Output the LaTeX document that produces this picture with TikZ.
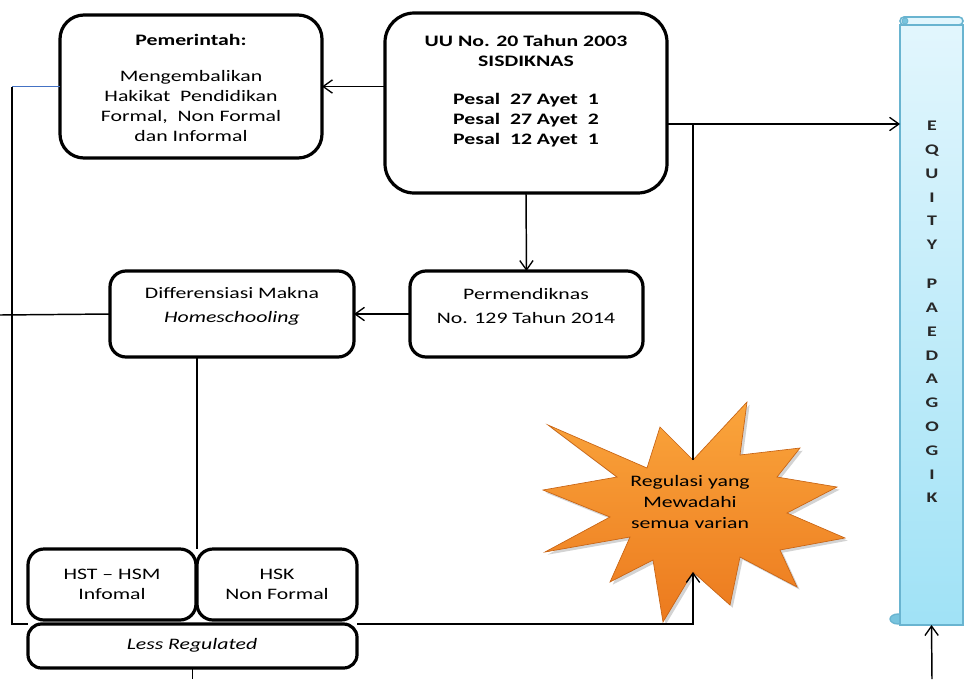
\documentclass[tikz,border=0pt]{standalone}
\usepackage{fontspec}
\setmainfont{Carlito}[FakeStretch=1.36]
\usetikzlibrary{arrows.meta,fit,shadows}
\definecolor{lineblue}{RGB}{68,114,196}
\definecolor{eqtop}{RGB}{226,246,253}
\definecolor{eqbot}{RGB}{160,226,246}
\definecolor{eqedge}{RGB}{105,180,208}
\definecolor{eqcurl}{RGB}{120,196,222}
\definecolor{startop}{RGB}{250,165,60}
\definecolor{starbot}{RGB}{236,122,30}
\definecolor{staredge}{RGB}{200,100,20}
\begin{document}
\begin{tikzpicture}[x=0.75pt,y=-0.75pt,
  box/.style={draw=black, line width=2.4pt, rounded corners=#1, inner sep=0pt, outer sep=0pt, align=center},
  box/.default=12pt,
  txt/.style={align=center, inner sep=0pt, font=\fontsize{12}{15}\selectfont},
  conn/.style={line width=1.1pt, draw=black},
  arr/.style={conn, -{Straight Barb[length=7pt,width=10pt,line width=1pt]}},
  ptr/.style={line width=0.9pt, draw=lineblue}]
\useasboundingbox (0,0) rectangle (968,679);

% boxes
\node[box=18pt, fit={(60,15)(322,158)}] (pem) {};
\node[txt] (pemt) at (191,88) {\textbf{Pemerintah:}\\[12pt]Mengembalikan\\Hakikat\ \ Pendidikan\\Formal,\ \ Non Formal\\dan Informal};

\node[box=22pt, fit={(385,13)(667,193)}] (uu) {};
\node[txt, font=\bfseries\fontsize{12}{15}\selectfont] (uut) at (526,91) {UU No. 20 Tahun 2003\\SISDIKNAS\\[13pt]Pesal\ \ 27 Ayet\ \ 1\\Pesal\ \ 27 Ayet\ \ 2\\Pesal\ \ 12 Ayet\ \ 1};

\node[box=12pt, fit={(410,271)(643,357)}] (perm) {};
\node[txt, font=\fontsize{12}{18}\selectfont] (permt) at (526,306) {Permendiknas\\No. 129 Tahun 2014};

\node[box=12pt, fit={(110,271)(354,357)}] (diff) {};
\node[txt, font=\fontsize{12}{18}\selectfont] (difft) at (232,306) {Differensiasi Makna\\\textit{Homeschooling}};

\node[box=12pt, fit={(28,549)(196,620)}] (hst) {};
\node[txt] (hstt) at (112,584) {HST – HSM\\Infomal};
\node[box=12pt, fit={(197,549)(357,620)}] (hsk) {};
\node[txt] (hskt) at (277,584) {HSK\\Non Formal};
\node[box=10pt, fit={(28,624)(357,668)}] (less) {};
\node[txt] (lesst) at (192,645) {\textit{Less Regulated}};

% equity scroll
\filldraw[fill=eqcurl, draw=eqedge, line width=1pt] (898,619) ellipse (8 and 5);
\shade[top color=eqtop, bottom color=eqbot, draw=eqedge, line width=1.2pt] (900,25) rectangle (963,625);
\filldraw[fill=eqtop, draw=eqedge, line width=1.2pt, rounded corners=3pt] (900,25) -- (900,17) -- (963,17) -- (963,25) -- cycle;
\filldraw[fill=eqcurl, draw=eqedge, line width=0.6pt] (905,21) circle (3);
\node[fit={(900,17)(963,625)}, inner sep=0pt, outer sep=0pt] (eq) {};
\node[align=center, inner sep=0pt, text={rgb,255:red,40;green,40;blue,40}, font=\bfseries\fontsize{11}{17.85}\selectfont] (eqt) at (932,312) {E\\Q\\U\\I\\T\\Y\\[11.4pt]P\\A\\E\\D\\A\\G\\O\\G\\I\\K};

% star
\path[draw=staredge, line width=0.5pt, top color=startop, bottom color=starbot,
      drop shadow={opacity=0.35, shadow xshift=2pt, shadow yshift=-2pt}]
  (548,425) -- (647,468) -- (660,427) -- (693,460) -- (747,402) -- (740,455)
  -- (800,448) -- (777,477) -- (837,487) -- (787,513) -- (845,538) -- (780,550)
  -- (797,587) -- (740,557) -- (730,605) -- (693,572) -- (663,622) -- (653,560)
  -- (610,582) -- (630,537) -- (545,552) -- (610,517) -- (543,490) -- (617,477) -- cycle;
\coordinate (stop) at (693,460);
\coordinate (sbot) at (693,572);
\node[txt, font=\fontsize{12}{15.75}\selectfont] (reg) at (690,502) {Regulasi yang\\Mewadahi\\semua varian};

% connectors
\coordinate (lt) at (12,624);
\coordinate (le) at (0,315);
\coordinate (j1) at (693,124);
\coordinate (j2) at (693,624);
\coordinate (lb) at (195,679);
\coordinate (eb) at (932,679);

\draw[arr] (uu.west |- pem.east) -- (pem.east);
\draw[ptr] (pem.west) -- (pem.west -| lt);
\draw[conn] (pem.west -| lt) -- (lt |- less.north west) -- (less.north west);
\draw[conn] (diff.west) -- (le);
\draw[arr] (uu.east |- j1) -- (eq.west |- j1);
\draw[conn] (j1) -- (stop);
\draw[arr] (uu.south) -- (perm.north);
\draw[arr] (perm.west) -- (diff.east);
\draw[conn] (diff.south -| hsk.north west) -- (hsk.north west);
\draw[conn] (less.south) -- (less.south |- lb);
\draw[arr] (less.north east) -- (less.north east -| j2) -- (sbot);
\draw[arr] (eb) -- (eq.south);
\end{tikzpicture}
\end{document}
